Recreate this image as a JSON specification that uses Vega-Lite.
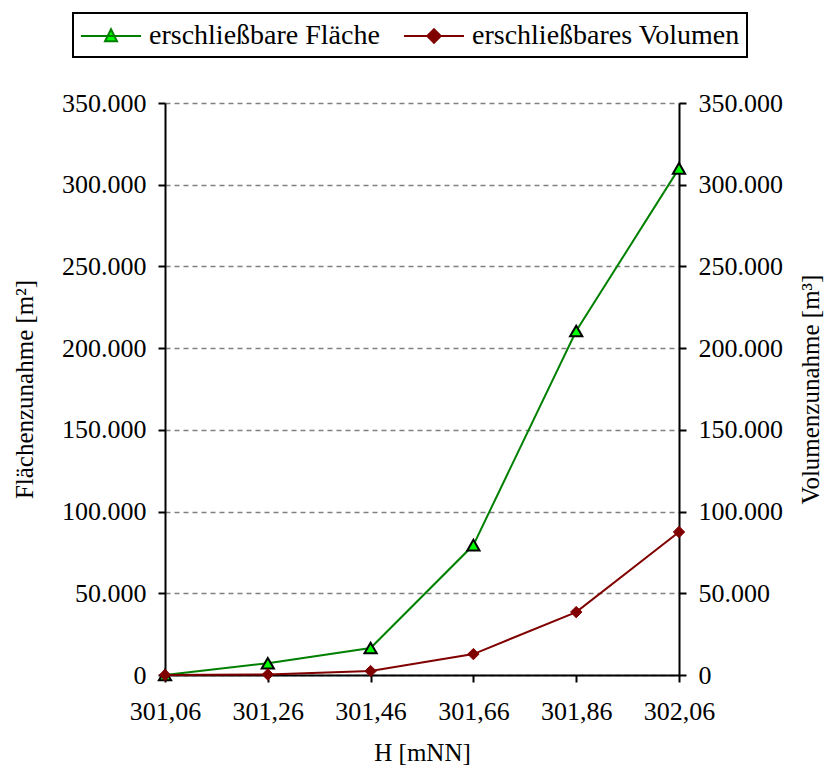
{
  "$schema": "https://vega.github.io/schema/vega-lite/v6.json",
  "width": 514,
  "height": 572,
  "autosize": {"type": "none"},
  "padding": {"left": 165, "top": 103, "right": 146, "bottom": 92},
  "background": "white",
  "config": {
    "locale": {"number": {"decimal": ",", "thousands": ".", "grouping": [3], "currency": ["", " €"]}},
    "font": "Liberation Serif",
    "view": {"stroke": null},
    "axis": {
      "labelFont": "Liberation Serif",
      "titleFont": "Liberation Serif",
      "labelFontSize": 26,
      "titleFontSize": 25,
      "titleFontWeight": "normal",
      "labelColor": "black",
      "titleColor": "black",
      "domainColor": "black",
      "domainWidth": 2,
      "tickColor": "black",
      "tickWidth": 2,
      "tickSize": 7
    }
  },
  "data": {
    "values": [
      {"H": 301.06, "series": "erschließbare Fläche", "value": 0},
      {"H": 301.26, "series": "erschließbare Fläche", "value": 7200},
      {"H": 301.46, "series": "erschließbare Fläche", "value": 16500},
      {"H": 301.66, "series": "erschließbare Fläche", "value": 79500},
      {"H": 301.86, "series": "erschließbare Fläche", "value": 210500},
      {"H": 302.06, "series": "erschließbare Fläche", "value": 310000},
      {"H": 301.06, "series": "erschließbares Volumen", "value": 0},
      {"H": 301.26, "series": "erschließbares Volumen", "value": 300},
      {"H": 301.46, "series": "erschließbares Volumen", "value": 2400},
      {"H": 301.66, "series": "erschließbares Volumen", "value": 12800},
      {"H": 301.86, "series": "erschließbares Volumen", "value": 38500},
      {"H": 302.06, "series": "erschließbares Volumen", "value": 87500}
    ]
  },
  "layer": [
    {
      "mark": {"type": "line", "strokeWidth": 2},
      "encoding": {
        "x": {
          "field": "H", "type": "quantitative",
          "scale": {"domain": [301.06, 302.06], "nice": false, "zero": false},
          "axis": {"title": "H [mNN]", "values": [301.06, 301.26, 301.46, 301.66, 301.86, 302.06], "format": ".2f", "grid": false, "labelPadding": 16, "titlePadding": 16, "labelFlush": false}
        },
        "y": {
          "field": "value", "type": "quantitative",
          "scale": {"domain": [0, 350000], "nice": false},
          "axis": {"title": "Flächenzunahme [m²]", "values": [0, 50000, 100000, 150000, 200000, 250000, 300000, 350000], "format": ",d", "grid": true, "gridColor": "#808080", "gridDash": [5, 4], "gridWidth": 1.5, "labelPadding": 12, "titlePadding": 24}
        },
        "stroke": {
          "field": "series", "type": "nominal",
          "scale": {"domain": ["erschließbare Fläche", "erschließbares Volumen"], "range": ["#008000", "#800000"]},
          "legend": {
            "title": null,
            "orient": "none",
            "legendX": -92,
            "legendY": -90,
            "direction": "horizontal",
            "labelFont": "Liberation Serif",
            "labelFontSize": 28,
            "labelLimit": 0,
            "labelColor": "black",
            "symbolSize": 900,
            "symbolStrokeWidth": 2,
            "labelOffset": 37,
            "columnPadding": 20,
            "padding": 7,
            "strokeColor": "black",
            "encode": {
              "legend": {"update": {"strokeWidth": {"value": 2}}},
              "symbols": {"update": {
                "shape": {"signal": "datum.value === 'erschließbare Fläche' ? 'M-1,0H3M1,-0.45L1.4,0.35L0.6,0.35Z' : 'M-1,0H3M1,-0.45L1.45,0L1,0.45L0.55,0Z'"},
                "fill": {"signal": "datum.value === 'erschließbare Fläche' ? '#00ff00' : '#800000'"},
                "fillOpacity": {"value": 1}
              }}
            }
          }
        }
      }
    },
    {
      "transform": [{"filter": "datum.series === 'erschließbare Fläche'"}],
      "mark": {"type": "point", "shape": "triangle-up", "filled": true, "fill": "#00ff00", "stroke": "black", "strokeWidth": 2, "size": 150, "opacity": 1},
      "encoding": {
        "x": {"field": "H", "type": "quantitative", "scale": {"domain": [301.06, 302.06], "nice": false, "zero": false}},
        "y": {"field": "value", "type": "quantitative", "scale": {"domain": [0, 350000], "nice": false}, "axis": null}
      }
    },
    {
      "transform": [{"filter": "datum.series === 'erschließbares Volumen'"}],
      "mark": {"type": "point", "shape": "diamond", "filled": true, "fill": "#800000", "stroke": "#800000", "strokeWidth": 1, "size": 130, "opacity": 1},
      "encoding": {
        "x": {"field": "H", "type": "quantitative", "scale": {"domain": [301.06, 302.06], "nice": false, "zero": false}},
        "y": {
          "field": "value", "type": "quantitative",
          "scale": {"domain": [0, 350000], "nice": false},
          "axis": {"orient": "right", "title": "Volumenzunahme [m³]", "titleAngle": 270, "titleBaseline": "top", "values": [0, 50000, 100000, 150000, 200000, 250000, 300000, 350000], "format": ",d", "grid": false, "labelPadding": 12, "titlePadding": 16}
        }
      }
    }
  ],
  "resolve": {"scale": {"y": "independent"}}
}
